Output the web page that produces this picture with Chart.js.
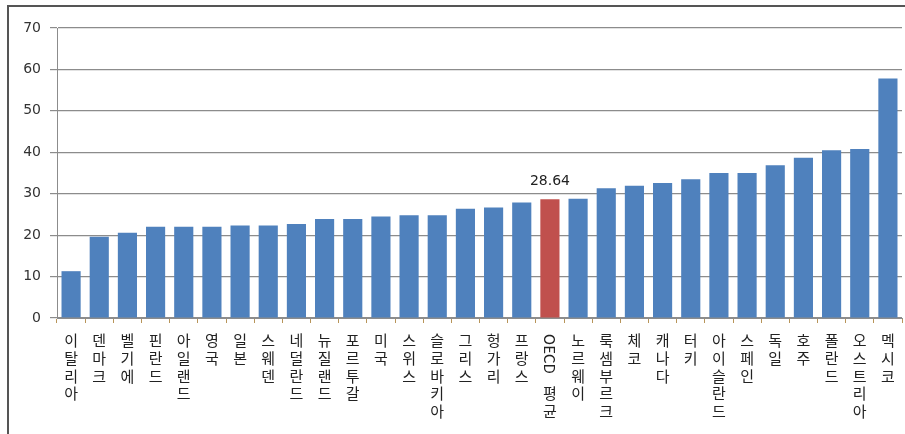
<!DOCTYPE html>
<html>
<head>
<meta charset="utf-8">
<script src="https://cdn.jsdelivr.net/npm/chart.js@4/dist/chart.umd.min.js"></script>
<style>
  html, body { margin: 0; padding: 0; background: #fff; }
  #wrap { position: relative; width: 905px; height: 434px; overflow: hidden; }
  #frame { position: absolute; left: 7px; top: 5px; width: 920px; height: 460px;
           border-left: 2px solid #555; border-top: 2px solid #555; box-sizing: border-box; }
  #chart { position: absolute; left: 0; top: 0; }
</style>
</head>
<body>
<div id="wrap">
  <div id="frame"></div>
  <canvas id="chart" width="905" height="434"></canvas>
</div>
<script>
"use strict";

// categories (sorted low -> high), OECD average highlighted
var countries = [
  "이탈리아", "덴마크", "벨기에", "핀란드", "아일랜드", "영국", "일본", "스웨덴",
  "네덜란드", "뉴질랜드", "포르투갈", "미국", "스위스", "슬로바키아", "그리스",
  "헝가리", "프랑스", "OECD 평균", "노르웨이", "룩셈부르크", "체코", "캐나다",
  "터키", "아이슬란드", "스페인", "독일", "호주", "폴란드", "오스트리아", "멕시코"
];
var values = [
  11.3, 19.6, 20.6, 22.0, 22.0, 22.0, 22.3, 22.3,
  22.7, 23.9, 23.9, 24.5, 24.8, 24.8, 26.4,
  26.7, 27.9, 28.64, 28.8, 31.3, 31.9, 32.6,
  33.5, 35.0, 35.0, 36.9, 38.7, 40.5, 40.8, 57.8
];
var yTicks = [0, 10, 20, 30, 40, 50, 60, 70];
var avgLabel = "OECD 평균";
var avgText = "28.64";

var blue = "#4f81bd";
var red = "#c0504d";
var labelFont = "'Noto Sans CJK KR', sans-serif";

// stack each label vertically, one syllable per line
// latin words (OECD) are left blank here and drawn rotated by the plugin
function stackLabel(name)
{
  var lines = [];
  var parts = name.split(" ");
  for (var p = 0; p < parts.length; p++) {
    if (/^[A-Za-z]+$/.test(parts[p])) {
      lines.push(" ", " ", " ");
      continue;
    }
    var chars = Array.from(parts[p]);
    for (var c = 0; c < chars.length; c++) lines.push(chars[c]);
  }
  return lines;
}

var labels = countries.map(stackLabel);
var colors = countries.map(function(n) { return n === avgLabel ? red : blue; });

var avgValuePlugin = {
  id: "avgValue",
  afterDatasetsDraw: function(chart) {
    var idx = countries.indexOf(avgLabel);
    var bar = chart.getDatasetMeta(0).data[idx];
    var ctx = chart.ctx;
    ctx.save();
    ctx.font = "14px 'DejaVu Sans', sans-serif";
    ctx.fillStyle = "#222";
    ctx.textAlign = "center";
    ctx.textBaseline = "middle";
    ctx.fillText(avgText, bar.x, bar.y - 18);

    // rotated "OECD" in the tick label space
    var xs = chart.scales.x;
    var x = xs.getPixelForTick(idx);
    ctx.translate(x, xs.top + 36);
    ctx.rotate(Math.PI / 2);
    ctx.font = "15px " + labelFont;
    ctx.fillStyle = "#222";
    ctx.fillText(avgLabel.split(" ")[0], 0, 0);
    ctx.restore();
  }
};

var ctx = document.getElementById("chart").getContext("2d");
new Chart(ctx, {
  type: "bar",
  data: {
    labels: labels,
    datasets: [{
      data: values,
      backgroundColor: colors,
      borderWidth: 0,
      categoryPercentage: 1.0,
      barPercentage: 0.68
    }]
  },
  options: {
    responsive: false,
    animation: false,
    layout: { padding: { top: 28, right: 3, left: 0, bottom: 0 } },
    plugins: {
      legend: { display: false },
      tooltip: { enabled: false }
    },
    scales: {
      x: {
        grid: {
          display: true,
          drawOnChartArea: false,
          offset: true,
          tickLength: 5,
          color: "#b8955a"
        },
        border: { display: true, color: "#8c8c8c" },
        ticks: {
          autoSkip: false,
          maxRotation: 0,
          minRotation: 0,
          padding: 9,
          color: "#222",
          font: { family: labelFont, size: 15, lineHeight: 1.17 }
        },
        afterFit: function(scale) { scale.height = 116; }
      },
      y: {
        min: 0,
        max: 70,
        afterBuildTicks: function(scale) {
          scale.ticks = yTicks.map(function(v) { return { value: v }; });
        },
        grid: {
          color: "#8c8c8c",
          lineWidth: 1.2,
          tickLength: 7
        },
        border: { display: true, color: "#8c8c8c" },
        ticks: {
          padding: 9,
          color: "#333",
          font: { family: "'DejaVu Sans', sans-serif", size: 14 }
        },
        afterFit: function(scale) { scale.width = 57; }
      }
    }
  },
  plugins: [avgValuePlugin]
});
</script>
</body>
</html>
